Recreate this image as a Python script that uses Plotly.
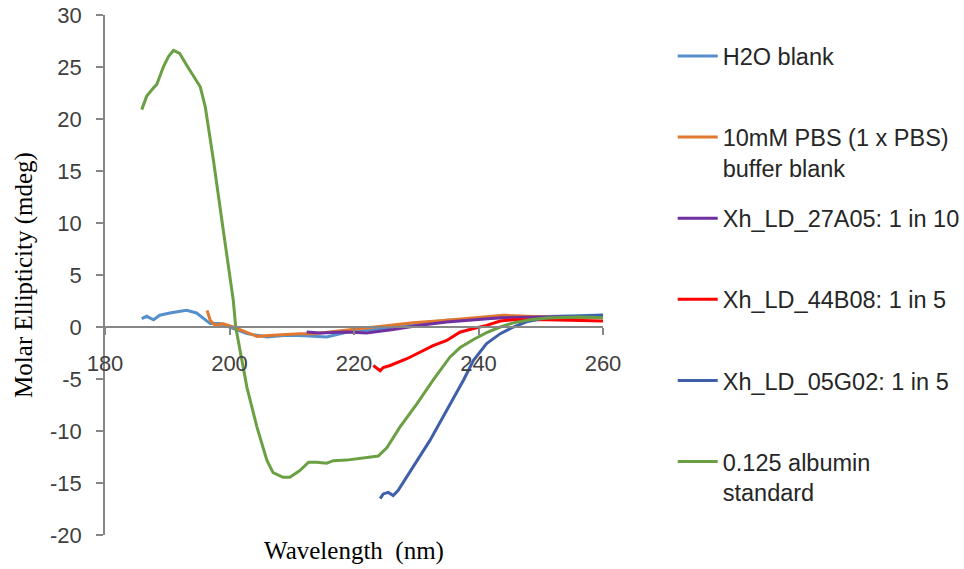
import plotly.graph_objects as go

# ---- data ----
names = [
    "H2O blank",
    "10mM PBS (1 x PBS)<br>buffer blank",
    "Xh_LD_27A05: 1 in 10",
    "Xh_LD_44B08: 1 in 5",
    "Xh_LD_05G02: 1 in 5",
    "0.125 albumin<br>standard",
]
colors = ["#5590CC", "#E0782F", "#7030A0", "#FF0000", "#3F5FA8", "#6AA043"]

h2o_x = [185.9, 186.7, 187.8, 188.8, 190.4, 192.0, 193.1, 194.7, 195.5, 196.9, 198.5, 200.6,
         202.8, 206.0, 209.2, 212.0, 215.6, 218.8, 224.2, 229.5, 234.9, 240.2, 245.6, 251.0, 256.3, 260.0]
h2o_y = [0.8, 1.03, 0.7, 1.13, 1.35, 1.54, 1.6, 1.35, 0.96, 0.33, 0.33, -0.16,
         -0.64, -0.96, -0.8, -0.85, -0.96, -0.5, -0.2, 0.3, 0.65, 0.8, 0.96, 1.0, 1.1, 1.16]

pbs_x = [196.4, 196.9, 197.7, 199.0, 200.6, 202.8, 204.4, 207.0, 211.3, 213.5, 218.8, 224.2,
         229.5, 234.9, 240.2, 244.0, 251.0, 256.3, 260.0]
pbs_y = [1.6, 0.65, 0.16, 0.3, 0.0, -0.48, -0.9, -0.8, -0.64, -0.64, -0.3, 0.0,
         0.4, 0.65, 0.9, 1.13, 0.96, 0.9, 0.96]

a27_x = [212.4, 214.5, 218.8, 222.0, 226.3, 230.6, 234.9, 239.2, 243.5, 251.0, 260.0]
a27_y = [-0.48, -0.58, -0.48, -0.58, -0.25, 0.16, 0.48, 0.7, 0.9, 0.96, 1.0]

b44_x = [223.1, 224.2, 224.7, 225.8, 228.5, 230.6, 232.7, 234.9, 237.0, 239.2, 241.3, 243.5,
         245.6, 251.0, 256.3, 260.0]
b44_y = [-3.7, -4.2, -3.9, -3.7, -3.05, -2.4, -1.8, -1.3, -0.5, -0.15, 0.16, 0.58,
         0.7, 0.7, 0.65, 0.58]

g05_x = [224.2, 224.7, 225.5, 226.3, 227.1, 229.5, 232.2, 234.9, 237.6, 239.2, 241.3, 243.5,
         245.6, 247.7, 251.0, 256.3, 260.0]
g05_y = [-16.5, -16.05, -15.9, -16.2, -15.7, -13.5, -10.9, -8.0, -5.1, -3.2, -1.6, -0.64,
         0.0, 0.5, 0.9, 1.03, 1.13]

alb_x = [185.9, 186.7, 187.8, 188.3, 189.4, 190.2, 191.0, 192.0, 193.1, 194.5, 195.3, 196.1,
         197.4, 199.0, 200.6, 201.0, 202.8, 204.4, 206.0, 207.0, 208.6, 209.7, 211.3, 212.7,
         214.0, 215.6, 216.7, 218.8, 221.0, 223.9, 225.3, 227.4, 230.1, 232.7, 235.4, 237.0,
         239.2, 241.3, 243.5, 245.6, 248.3, 251.0, 256.3, 260.0]
alb_y = [20.9, 22.2, 23.0, 23.3, 25.05, 26.0, 26.6, 26.3, 25.2, 23.8, 23.1, 21.2,
         16.1, 9.3, 2.6, 0.0, -5.8, -9.6, -12.8, -14.0, -14.45, -14.45, -13.8, -13.0,
         -13.0, -13.1, -12.85, -12.8, -12.6, -12.4, -11.6, -9.6, -7.4, -5.1, -2.9, -2.0,
         -1.2, -0.55, 0.0, 0.4, 0.7, 0.87, 0.96, 0.9]

series_x = [h2o_x, pbs_x, a27_x, b44_x, g05_x, alb_x]
series_y = [h2o_y, pbs_y, a27_y, b44_y, g05_y, alb_y]

x_ticks = [180, 200, 220, 240, 260]
y_ticks = [-20, -15, -10, -5, 0, 5, 10, 15, 20, 25, 30]

fig = go.Figure()
for i, (nm, c, xs, ys) in enumerate(zip(names, colors, series_x, series_y)):
    label = nm if "<br>" in nm else nm + "<br>&nbsp;"
    fig.add_trace(go.Scatter(
        x=xs, y=ys, mode="lines", name=label,
        line=dict(color=c, width=3),
        legendgroup=str(i),
    ))

axis_col = "#868686"
tick_font = dict(family="Liberation Sans, Arial, sans-serif", size=22, color="#404040")
serif = "Liberation Serif, Times New Roman, serif"
fig.update_layout(
    template="none",
    width=964, height=569,
    margin=dict(l=105, r=361, t=15, b=34, autoexpand=False),
    paper_bgcolor="white", plot_bgcolor="white",
    showlegend=True,
    legend=dict(
        x=1.14, xanchor="left", y=0.963, yanchor="top",
        font=dict(family="Liberation Sans, Arial, sans-serif", size=23.5, color="#262626"),
        valign="top", traceorder="grouped", tracegroupgap=17,
        itemwidth=40, bgcolor="rgba(0,0,0,0)",
    ),
    xaxis=dict(
        range=[180, 260], tickvals=x_ticks, ticktext=[str(v) for v in x_ticks],
        showgrid=False, zeroline=False, showline=True, linecolor=axis_col, linewidth=1.5,
        ticks="outside", ticklen=7, tickcolor=axis_col, tickwidth=1.5,
        anchor="free", position=0.4, tickfont=tick_font, ticklabelstandoff=10,
        automargin=False,
    ),
    xaxis2=dict(
        overlaying="x", range=[180, 260], showticklabels=False, showline=False,
        showgrid=False, zeroline=False, anchor="y", side="bottom", automargin=False,
        title=dict(text="Wavelength  (nm)", standoff=6,
                   font=dict(family=serif, size=25, color="#000000")),
    ),
    yaxis=dict(
        range=[-20, 30], tickvals=y_ticks, ticktext=[str(v) for v in y_ticks],
        showgrid=False, zeroline=False, showline=True, linecolor=axis_col, linewidth=1.5,
        ticks="outside", ticklen=7, tickcolor=axis_col, tickwidth=1.5, tickfont=tick_font,
        ticklabelstandoff=10, automargin=False,
        title=dict(text="Molar Ellipticity (mdeg)", standoff=10,
                   font=dict(family=serif, size=25, color="#000000")),
    ),
)
# helper trace that only activates the second x axis carrying the axis title
fig.add_trace(go.Scatter(x=[None], y=[None], xaxis="x2", showlegend=False, hoverinfo="skip"))

fig.write_html("out.html")
